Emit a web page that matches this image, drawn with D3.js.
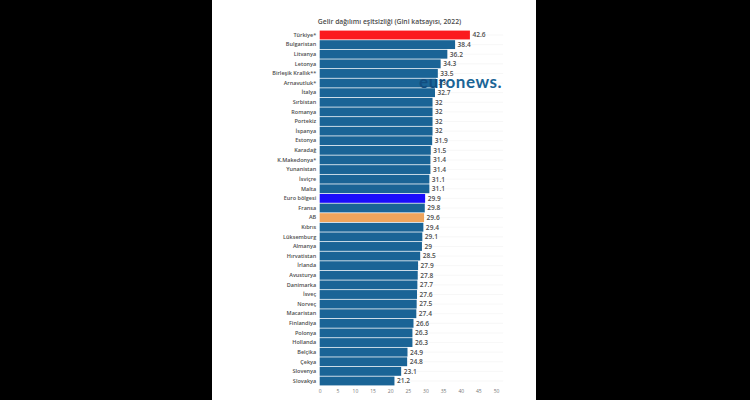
<!DOCTYPE html>
<html>
<head>
<meta charset="utf-8">
<script src="https://cdnjs.cloudflare.com/ajax/libs/d3/7.8.5/d3.min.js"></script>
<style>
body { margin: 0; background: #000; }
svg { display: block; font-family: "Open Sans", sans-serif; }
</style>
</head>
<body>
<svg id="chart" width="750" height="400"></svg>
<script>
var chartTitle = "Gelir dağılımı eşitsizliği (Gini katsayısı, 2022)";
var countries = ["Türkiye*", "Bulgaristan", "Litvanya", "Letonya", "Birleşik Krallık**", "Arnavutluk*", "İtalya", "Sırbistan", "Romanya", "Portekiz", "İspanya", "Estonya", "Karadağ", "K.Makedonya*", "Yunanistan", "İsviçre", "Malta", "Euro bölgesi", "Fransa", "AB", "Kıbrıs", "Lüksemburg", "Almanya", "Hırvatistan", "İrlanda", "Avusturya", "Danimarka", "İsveç", "Norveç", "Macaristan", "Finlandiya", "Polonya", "Hollanda", "Belçika", "Çekya", "Slovenya", "Slovakya"];
var gini = [42.6, 38.4, 36.2, 34.3, 33.5, 33, 32.7, 32, 32, 32, 32, 31.9, 31.5, 31.4, 31.4, 31.1, 31.1, 29.9, 29.8, 29.6, 29.4, 29.1, 29, 28.5, 27.9, 27.8, 27.7, 27.6, 27.5, 27.4, 26.6, 26.3, 26.3, 24.9, 24.8, 23.1, 21.2];
var xTicks = [0, 5, 10, 15, 20, 25, 30, 35, 40, 45, 50];
var highlights = { "Türkiye*": "#fb1a1e", "Euro bölgesi": "#1a0dfb", "AB": "#eea45c" };

var svg = d3.select("#chart");

// White page area behind the chart
svg.append("rect").attr("x", 212).attr("y", 0).attr("width", 324).attr("height", 400).attr("fill", "#fff");

var x = d3.scaleLinear().domain([0, 50]).range([319.7, 496]);
var y = d3.scaleBand().domain(countries).range([30.2, 385.8]).paddingInner(0.08).paddingOuter(0.04);

svg.append("text")
	.attr("x", 389.5).attr("y", 23.5)
	.attr("text-anchor", "middle")
	.attr("font-size", 6.8).attr("font-weight", 600).attr("fill", "#4d4d4d")
	.text(chartTitle);

// Faint row guides run on behind the bars
svg.append("g").selectAll("line").data(countries).join("line")
	.attr("x1", x(0)).attr("x2", x(52))
	.attr("y1", function(d) { return y(d) + y.bandwidth() / 2; })
	.attr("y2", function(d) { return y(d) + y.bandwidth() / 2; })
	.attr("stroke", "#f2f2f2").attr("stroke-width", 0.6);

svg.append("g").selectAll("rect").data(countries).join("rect")
	.attr("x", x(0))
	.attr("y", function(d) { return y(d); })
	.attr("width", function(d, i) { return x(gini[i]) - x(0); })
	.attr("height", y.bandwidth())
	.attr("fill", function(d) { return highlights[d] || "#1a6496"; });

svg.append("g").selectAll("text").data(countries).join("text")
	.attr("x", function(d, i) { return x(gini[i]) + 2.5; })
	.attr("y", function(d) { return y(d) + y.bandwidth() / 2; })
	.attr("dy", "0.36em")
	.attr("font-size", 6.6).attr("font-weight", 600).attr("fill", "#4d4d4d")
	.attr("stroke", "#fff").attr("stroke-width", 1.5).attr("paint-order", "stroke")
	.text(function(d, i) { return gini[i]; });

var yAxis = svg.append("g")
	.attr("transform", "translate(" + x(0) + ",0)")
	.call(d3.axisLeft(y).tickSize(0).tickPadding(3.5));
yAxis.select(".domain").remove();
yAxis.selectAll("text")
	.attr("font-family", "'Open Sans', sans-serif")
	.attr("font-size", 5.5).attr("font-weight", 600).attr("fill", "#4d4d4d");

var xAxis = svg.append("g")
	.attr("transform", "translate(0,386)")
	.call(d3.axisBottom(x).tickValues(xTicks).tickSize(0).tickPadding(3));
xAxis.select(".domain").remove();
xAxis.selectAll("text")
	.attr("font-family", "'Open Sans', sans-serif")
	.attr("font-size", 5).attr("fill", "#777");

// Watermark sits on top of the bars
var logo = svg.append("text")
	.attr("x", 419).attr("y", 88)
	.attr("font-family", "Lato, sans-serif")
	.attr("font-size", 17).attr("font-weight", 700).attr("letter-spacing", 0.55);
logo.append("tspan").attr("fill", "#124d80").text("eur");
logo.append("tspan").attr("fill", "#1a6496").text("onews.");
</script>
</body>
</html>
